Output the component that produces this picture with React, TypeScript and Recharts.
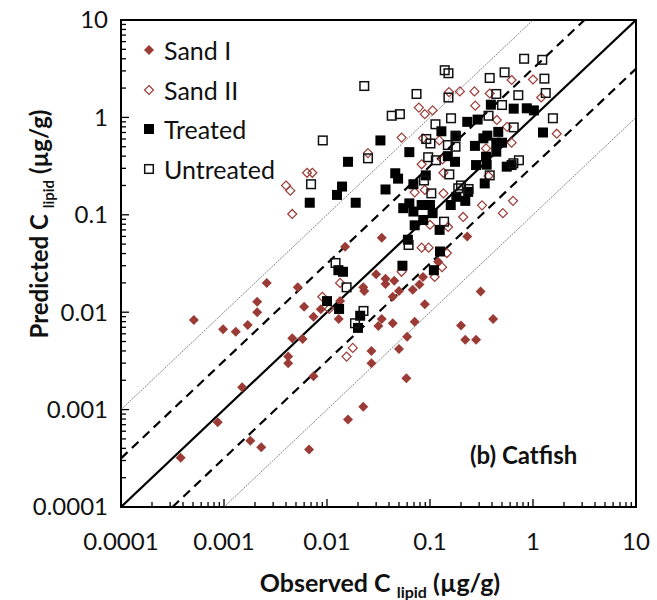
import { ScatterChart, Scatter, XAxis, YAxis, ReferenceArea } from "recharts";

const majorTicks = [0.0001, 0.001, 0.01, 0.1, 1, 10];
const majorLabels = ["0.0001", "0.001", "0.01", "0.1", "1", "10"];
const minorSteps = [2, 3, 4, 5, 6, 7, 8, 9];

// [observed, predicted] in ug/g
const sandI: [number, number][] = [
  [0.00038, 0.00032], [0.00051, 0.0083], [0.00087, 0.00074], [0.00098, 0.0067],
  [0.0013, 0.0063], [0.0015, 0.0017], [0.0017, 0.0074], [0.0018, 0.00048],
  [0.0021, 0.0128], [0.0021, 0.01], [0.0023, 0.00041], [0.0026, 0.02],
  [0.0042, 0.0035], [0.0042, 0.003], [0.0046, 0.0054], [0.0052, 0.018],
  [0.0058, 0.0053], [0.006, 0.0114], [0.0067, 0.00039], [0.0074, 0.009],
  [0.0074, 0.0022], [0.0087, 0.0107], [0.013, 0.0085], [0.0134, 0.013],
  [0.015, 0.047], [0.016, 0.00079], [0.0225, 0.018], [0.023, 0.0165],
  [0.0225, 0.00107], [0.027, 0.004], [0.027, 0.003], [0.03, 0.0245],
  [0.0315, 0.0072], [0.034, 0.058], [0.034, 0.0085], [0.037, 0.022],
  [0.037, 0.0195], [0.0435, 0.0144], [0.0435, 0.0077], [0.045, 0.021],
  [0.05, 0.0165], [0.05, 0.0042], [0.06, 0.0056], [0.059, 0.0021],
  [0.068, 0.017], [0.071, 0.008], [0.079, 0.0193], [0.0855, 0.023],
  [0.089, 0.0121], [0.12, 0.033], [0.2, 0.0073], [0.22, 0.0052],
  [0.23, 0.06], [0.28, 0.0052], [0.31, 0.0163], [0.41, 0.0085],
];

const sandII: [number, number][] = [
  [0.004, 0.2], [0.0044, 0.177], [0.0046, 0.102], [0.0064, 0.27],
  [0.0072, 0.27], [0.025, 0.43], [0.009, 0.0144], [0.0105, 0.0108],
  [0.0134, 0.02], [0.0178, 0.0043], [0.0155, 0.0035], [0.053, 0.62],
  [0.078, 1.26], [0.089, 1.08], [0.106, 1.18], [0.153, 1.82],
  [0.195, 1.85], [0.27, 1.85], [0.275, 1.32], [0.38, 1.76],
  [0.62, 2.42], [1.0, 2.45], [1.2, 1.6], [0.445, 0.94],
  [0.56, 0.8], [0.62, 0.55], [1.7, 0.68], [0.0855, 0.61],
  [0.123, 0.58], [0.35, 0.48], [0.083, 0.33], [0.132, 0.37],
  [0.135, 0.27], [0.37, 0.25], [0.071, 0.17], [0.089, 0.18],
  [0.135, 0.166], [0.1, 0.079], [0.15, 0.075], [0.21, 0.095],
  [0.32, 0.125], [0.51, 0.104], [0.64, 0.139], [0.083, 0.046],
  [0.097, 0.046], [0.146, 0.0405], [0.131, 0.029], [0.111, 0.023],
  [0.053, 0.026],
];

const treated: [number, number][] = [
  [0.0068, 0.133], [0.0125, 0.16], [0.014, 0.195], [0.016, 0.35],
  [0.019, 0.133], [0.033, 0.58], [0.063, 0.44], [0.046, 0.267],
  [0.049, 0.235], [0.037, 0.182], [0.069, 0.206], [0.091, 0.254],
  [0.055, 0.117], [0.063, 0.131], [0.069, 0.108], [0.083, 0.126],
  [0.1, 0.126], [0.071, 0.078], [0.086, 0.0885], [0.106, 0.104],
  [0.124, 0.07], [0.125, 0.042], [0.054, 0.03], [0.061, 0.0555],
  [0.129, 0.72], [0.175, 0.35], [0.149, 0.4], [0.177, 0.65],
  [0.23, 0.9], [0.29, 0.95], [0.273, 0.51], [0.33, 0.61],
  [0.36, 0.65], [0.39, 1.35], [0.44, 0.55], [0.5, 0.55],
  [0.44, 0.445], [0.35, 0.395], [0.28, 0.324], [0.355, 0.327],
  [0.34, 0.21], [0.556, 0.312], [0.62, 0.324], [0.65, 1.23],
  [0.87, 1.24], [1.02, 1.18], [1.25, 0.7], [0.235, 0.172],
  [0.159, 0.126], [0.18, 0.153], [0.22, 0.139], [0.109, 0.027],
  [0.0129, 0.027], [0.0143, 0.026], [0.01, 0.013], [0.0131, 0.0108],
  [0.021, 0.0092], [0.02, 0.0069], [0.46, 0.71],
];

const untreated: [number, number][] = [
  [0.023, 2.1], [0.0091, 0.58], [0.025, 0.38], [0.007, 0.206],
  [0.0121, 0.032], [0.82, 4.0], [1.23, 3.9], [0.139, 3.05],
  [0.151, 2.84], [0.53, 2.9], [0.38, 2.54], [1.29, 2.5],
  [0.074, 1.74], [0.151, 1.6], [0.44, 1.74], [0.72, 1.69],
  [1.33, 1.78], [0.0425, 1.04], [0.051, 1.08], [0.16, 0.98],
  [0.113, 0.85], [0.37, 1.04], [1.56, 0.98], [0.65, 0.79],
  [0.092, 0.6], [0.101, 0.54], [0.149, 0.52], [0.177, 0.5],
  [0.096, 0.39], [0.114, 0.363], [0.73, 0.363], [0.38, 0.254],
  [0.154, 0.26], [0.0875, 0.225], [0.188, 0.187], [0.237, 0.184],
  [0.103, 0.166], [0.137, 0.085], [0.062, 0.049], [0.0155, 0.018],
  [0.0187, 0.0077], [0.0226, 0.0103], [0.5, 1.34], [0.178, 0.64],
  [0.645, 0.338], [0.2, 0.2],
];

// 1:1 line, factor of ~3 and factor of 10 bands
const oneToOne: [number, number][] = [[0.0001, 0.0001], [10, 10]];
const upperHalf: [number, number][] = [[0.0001, 0.000316], [3.16, 10]];
const lowerHalf: [number, number][] = [[0.000316, 0.0001], [10, 3.16]];
const upperTen: [number, number][] = [[0.0001, 0.001], [1, 10]];
const lowerTen: [number, number][] = [[0.001, 0.0001], [10, 1]];

const BROWN = "#9b3b36";
const FONT = "Lato, 'Open Sans', sans-serif";

const toPts = (arr: [number, number][]) => arr.map(([x, y]) => ({ x, y }));

const allTicks: number[] = [];
majorTicks.forEach((t, i) => {
  allTicks.push(t);
  if (i < majorTicks.length - 1) minorSteps.forEach((m) => allTicks.push(t * m));
});

function XTick(props: any) {
  const { x, y, payload } = props;
  const i = majorTicks.indexOf(payload.value);
  const major = i >= 0;
  return (
    <g>
      <line x1={x} x2={x} y1={y} y2={y - (major ? 8 : 5)} stroke="#000" strokeWidth={1.3} />
      {major && (
        <text x={x} y={y + 35} dy="0.35em" textAnchor="middle" fontSize={24} fontFamily={FONT} fill="#111">
          {majorLabels[i]}
        </text>
      )}
    </g>
  );
}

function YTick(props: any) {
  const { x, y, payload } = props;
  const i = majorTicks.indexOf(payload.value);
  const major = i >= 0;
  return (
    <g>
      <line x1={x} x2={x + (major ? 8 : 5)} y1={y} y2={y} stroke="#000" strokeWidth={1.3} />
      {major && (
        <text x={x - 13} y={y} dy="0.35em" textAnchor="end" fontSize={24} fontFamily={FONT} fill="#111">
          {majorLabels[i]}
        </text>
      )}
    </g>
  );
}

const FilledDiamond = (p: any) => {
  const r = 5;
  return <polygon points={`${p.cx},${p.cy - r} ${p.cx + r},${p.cy} ${p.cx},${p.cy + r} ${p.cx - r},${p.cy}`} fill={BROWN} />;
};
const OpenDiamond = (p: any) => {
  const r = 4.5;
  return (
    <polygon
      points={`${p.cx},${p.cy - r} ${p.cx + r},${p.cy} ${p.cx},${p.cy + r} ${p.cx - r},${p.cy}`}
      fill="none"
      stroke={BROWN}
      strokeWidth={1.2}
    />
  );
};
const FilledSquare = (p: any) => <rect x={p.cx - 5} y={p.cy - 5} width={10} height={10} fill="#000" />;
const OpenSquare = (p: any) => (
  <rect x={p.cx - 4.3} y={p.cy - 4.3} width={8.6} height={8.6} fill="none" stroke="#111" strokeWidth={1.5} />
);
const NoShape = () => <g />;

const legendItems = [
  { name: "Sand I", Shape: FilledDiamond },
  { name: "Sand II", Shape: OpenDiamond },
  { name: "Treated", Shape: FilledSquare },
  { name: "Untreated", Shape: OpenSquare },
];

export default function App() {
  return (
    <div style={{ position: "absolute", left: 0, top: 0, width: 657, height: 600, background: "#fff" }}>
      <ScatterChart width={657} height={600} margin={{ top: 20, right: 21, bottom: 0, left: 0 }}>
        <XAxis
          dataKey="x"
          type="number"
          scale="log"
          domain={[0.0001, 10]}
          ticks={allTicks}
          interval={0}
          allowDataOverflow
          height={93}
          tickSize={0}
          tickMargin={0}
          tickLine={false}
          axisLine={false}
          tick={<XTick />}
        />
        <YAxis
          dataKey="y"
          type="number"
          scale="log"
          domain={[0.0001, 10]}
          ticks={allTicks}
          interval={0}
          allowDataOverflow
          width={121}
          tickSize={0}
          tickMargin={0}
          tickLine={false}
          axisLine={false}
          tick={<YTick />}
        />
        <Scatter data={toPts(upperTen)} line={{ stroke: "#777", strokeWidth: 0.9, strokeDasharray: "2 1" }} shape={NoShape} isAnimationActive={false} />
        <Scatter data={toPts(lowerTen)} line={{ stroke: "#777", strokeWidth: 0.9, strokeDasharray: "2 1" }} shape={NoShape} isAnimationActive={false} />
        <Scatter data={toPts(upperHalf)} line={{ stroke: "#000", strokeWidth: 2.2, strokeDasharray: "9 6" }} shape={NoShape} isAnimationActive={false} />
        <Scatter data={toPts(lowerHalf)} line={{ stroke: "#000", strokeWidth: 2.2, strokeDasharray: "9 6" }} shape={NoShape} isAnimationActive={false} />
        <Scatter data={toPts(oneToOne)} line={{ stroke: "#000", strokeWidth: 2.2 }} shape={NoShape} isAnimationActive={false} />
        <Scatter name="Sand I" data={toPts(sandI)} shape={FilledDiamond} isAnimationActive={false} />
        <Scatter name="Sand II" data={toPts(sandII)} shape={OpenDiamond} isAnimationActive={false} />
        <Scatter name="Treated" data={toPts(treated)} shape={FilledSquare} isAnimationActive={false} />
        <Scatter name="Untreated" data={toPts(untreated)} shape={OpenSquare} isAnimationActive={false} />
        <ReferenceArea x1={0.0001} x2={10} y1={0.0001} y2={10} fill="none" stroke="#000" strokeWidth={2} />
      </ScatterChart>

      {legendItems.map((it, i) => (
        <div
          key={it.name}
          style={{ position: "absolute", left: 140, top: 50 + i * 39.7 - 17, height: 34, display: "flex", alignItems: "center" }}
        >
          <svg width={18} height={18}>
            <it.Shape cx={9} cy={9} />
          </svg>
          <span style={{ marginLeft: 6, fontFamily: FONT, fontSize: 25, color: "#111" }}>{it.name}</span>
        </div>
      ))}

      <div
        style={{ position: "absolute", left: 470, top: 440, fontFamily: FONT, fontWeight: 700, fontSize: 24, color: "#111", whiteSpace: "nowrap" }}
      >
        (b) Catfish
      </div>

      <div
        style={{
          position: "absolute",
          left: 380 - 200,
          top: 567,
          width: 400,
          textAlign: "center",
          fontFamily: FONT,
          fontWeight: 700,
          fontSize: 25,
          color: "#111",
          whiteSpace: "nowrap",
        }}
      >
        Observed C <sub style={{ fontSize: 16 }}>lipid</sub> (µg/g)
      </div>

      <div
        style={{
          position: "absolute",
          left: 40 - 200,
          top: 224 - 16,
          width: 400,
          height: 32,
          textAlign: "center",
          transform: "rotate(-90deg)",
          transformOrigin: "50% 50%",
          fontFamily: FONT,
          fontWeight: 700,
          fontSize: 24,
          color: "#111",
          whiteSpace: "nowrap",
        }}
      >
        Predicted C <sub style={{ fontSize: 15 }}>lipid</sub> (µg/g)
      </div>
    </div>
  );
}
